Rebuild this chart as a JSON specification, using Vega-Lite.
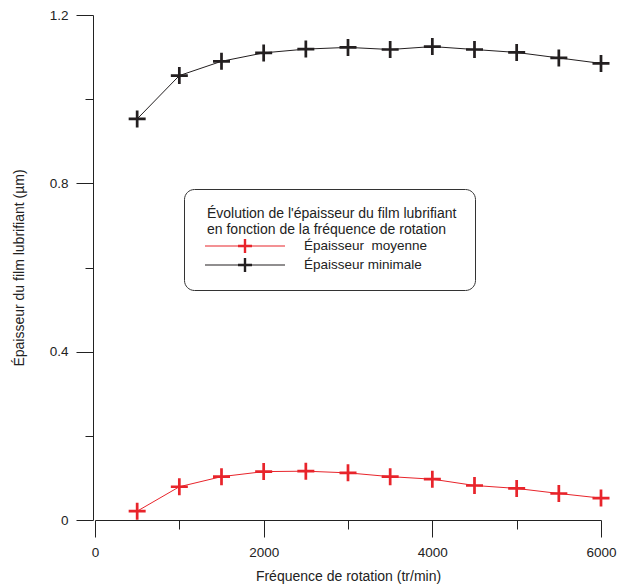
{
  "$schema": "https://vega.github.io/schema/vega-lite/v6.json",
  "width": 506,
  "height": 505,
  "autosize": {"type": "none"},
  "padding": {"left": 95, "top": 15, "right": 24, "bottom": 65},
  "background": "white",
  "config": {
    "view": {"stroke": null},
    "font": "Liberation Sans",
    "axis": {
      "grid": false,
      "domainColor": "#222222",
      "tickColor": "#222222",
      "labelColor": "#222222",
      "titleColor": "#222222",
      "labelFont": "Liberation Sans",
      "titleFont": "Liberation Sans",
      "labelFontSize": 13.5,
      "titleFontSize": 14,
      "titleFontWeight": "normal",
      "labelFlush": false,
      "labelOverlap": false
    }
  },
  "data": {
    "values": [
      {"f": 500, "e": 0.021, "serie": "Épaisseur\u00a0 moyenne"},
      {"f": 1000, "e": 0.079, "serie": "Épaisseur\u00a0 moyenne"},
      {"f": 1500, "e": 0.103, "serie": "Épaisseur\u00a0 moyenne"},
      {"f": 2000, "e": 0.115, "serie": "Épaisseur\u00a0 moyenne"},
      {"f": 2500, "e": 0.116, "serie": "Épaisseur\u00a0 moyenne"},
      {"f": 3000, "e": 0.112, "serie": "Épaisseur\u00a0 moyenne"},
      {"f": 3500, "e": 0.103, "serie": "Épaisseur\u00a0 moyenne"},
      {"f": 4000, "e": 0.097, "serie": "Épaisseur\u00a0 moyenne"},
      {"f": 4500, "e": 0.082, "serie": "Épaisseur\u00a0 moyenne"},
      {"f": 5000, "e": 0.075, "serie": "Épaisseur\u00a0 moyenne"},
      {"f": 5500, "e": 0.063, "serie": "Épaisseur\u00a0 moyenne"},
      {"f": 6000, "e": 0.052, "serie": "Épaisseur\u00a0 moyenne"},
      {"f": 500, "e": 0.953, "serie": "Épaisseur minimale"},
      {"f": 1000, "e": 1.056, "serie": "Épaisseur minimale"},
      {"f": 1500, "e": 1.090, "serie": "Épaisseur minimale"},
      {"f": 2000, "e": 1.110, "serie": "Épaisseur minimale"},
      {"f": 2500, "e": 1.119, "serie": "Épaisseur minimale"},
      {"f": 3000, "e": 1.123, "serie": "Épaisseur minimale"},
      {"f": 3500, "e": 1.118, "serie": "Épaisseur minimale"},
      {"f": 4000, "e": 1.125, "serie": "Épaisseur minimale"},
      {"f": 4500, "e": 1.118, "serie": "Épaisseur minimale"},
      {"f": 5000, "e": 1.111, "serie": "Épaisseur minimale"},
      {"f": 5500, "e": 1.098, "serie": "Épaisseur minimale"},
      {"f": 6000, "e": 1.085, "serie": "Épaisseur minimale"}
    ]
  },
  "encoding": {
    "x": {
      "field": "f",
      "type": "quantitative",
      "scale": {"domain": [0, 6000], "nice": false, "zero": false},
      "axis": {
        "values": [0, 1000, 2000, 3000, 4000, 5000, 6000],
        "tickSize": {"condition": {"test": "datum.value % 2000 === 0", "value": 17}, "value": 9},
        "labelExpr": "datum.value % 2000 === 0 ? format(datum.value, 'd') : ''",
        "labelPadding": 8,
        "titlePadding": 11,
        "title": "Fréquence de rotation (tr/min)"
      }
    },
    "y": {
      "field": "e",
      "type": "quantitative",
      "scale": {"domain": [0, 1.2], "nice": false},
      "axis": {
        "values": [0, 0.2, 0.4, 0.6, 0.8, 1, 1.2],
        "tickSize": {"condition": {"test": "round(datum.value * 10) % 4 === 0", "value": 17}, "value": 8},
        "labelExpr": "round(datum.value * 10) % 4 === 0 ? format(datum.value, '~g') : ''",
        "labelPadding": 8,
        "titlePadding": 23,
        "offset": 2,
        "title": "Épaisseur du film lubrifiant (µm)"
      }
    },
    "color": {
      "field": "serie",
      "type": "nominal",
      "scale": {"domain": ["Épaisseur\u00a0 moyenne", "Épaisseur minimale"], "range": ["#e8242b", "#231f20"]},
      "legend": {
        "orient": "none",
        "legendX": 89,
        "legendY": 174,
        "title": ["Évolution de l'épaisseur du film lubrifiant\u00a0\u00a0\u00a0\u00a0", "en fonction de la fréquence de rotation"],
        "titleFont": "Liberation Sans",
        "titleFontSize": 14,
        "titleFontWeight": "normal",
        "titleColor": "#222222",
        "titleLineHeight": 16,
        "titlePadding": 2,
        "titleLimit": 500,
        "labelFont": "Liberation Sans",
        "labelFontSize": 13.5,
        "labelColor": "#222222",
        "labelOffset": 19,
        "labelLimit": 400,
        "symbolType": "M-1,-0.0125H1V0.0125H-1Z M-0.175,-0.03H0.175V0.03H-0.175Z M-0.03,-0.175H0.03V0.175H-0.03Z",
        "symbolSize": 6400,
        "symbolStrokeWidth": 0,
        "symbolOpacity": 1,
        "symbolOffset": 3,
        "clipHeight": 14,
        "rowPadding": 5,
        "padding": 18,
        "strokeColor": "#333333",
        "cornerRadius": 10,
        "fillColor": "white",
        "encode": {"title": {"update": {"dx": {"value": 5}}}}
      }
    }
  },
  "layer": [
    {
      "mark": {"type": "line", "strokeWidth": 1}
    },
    {
      "mark": {
        "type": "point",
        "shape": "M-1,-0.16H1V0.16H-1Z M-0.16,-1H0.16V1H-0.16Z",
        "filled": true,
        "size": 289,
        "opacity": 1,
        "strokeWidth": 0
      }
    }
  ]
}
